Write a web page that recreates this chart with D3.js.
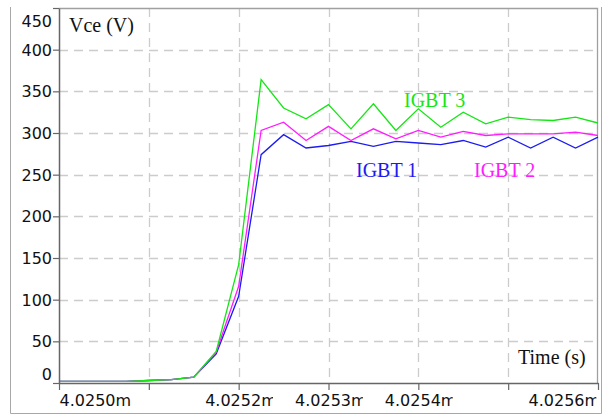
<!DOCTYPE html>
<html><head><meta charset="utf-8">
<script src="https://cdn.jsdelivr.net/npm/d3@7"></script>
<style>
html,body{margin:0;padding:0;background:#fff;}
svg{display:block;}
</style></head>
<body><svg id="chart" width="608" height="414"></svg>
<script>
// time in microseconds
const timeUs = [4025.000,4025.025,4025.050,4025.075,4025.100,4025.125,4025.150,4025.175,4025.200,
  4025.225,4025.250,4025.275,4025.300,4025.325,4025.350,4025.375,4025.400,4025.425,4025.450,
  4025.475,4025.500,4025.525,4025.550,4025.575,4025.600];
const igbt1 = [2,2,2,2,3,4,7,35,104,274,298,282,285,290,284,290,288,286,291,283,295,282,295,282,295];
const igbt2 = [2,2,2,2,3,4,7,37,116,303,313,291,308,291,305,293,303,295,302,297,299,299,299,301,297];
const igbt3 = [2,2,2,2,3,4,7,38,142,364,330,317,334,305,335,303,329,307,325,311,319,316,315,319,312];
const seriesNames = ["IGBT 1","IGBT 2","IGBT 3"];
const seriesColors = ["#1c1cf0","#ff1cff","#14e614"];
const xTicks = [4025.0,4025.1,4025.2,4025.3,4025.4,4025.5,4025.6];
const xTickLabels = ["4.0250m","","4.0252m","4.0253m","4.0254m","","4.0256m"];
const yTicks = [0,50,100,150,200,250,300,350,400,450];

const svg = d3.select("#chart");
const L=59,R=598,T=8,B=383;
const x = d3.scaleLinear().domain([4025.0,4025.6]).range([L,R]);
const y = d3.scaleLinear().domain([0,450]).range([B,T]);

svg.append("rect").attr("width",608).attr("height",414).attr("fill","#fff");

// outer frame
svg.append("path").attr("d",`M10.5,7 V413.5 H601.5 V7`).attr("fill","none").attr("stroke","#a8a8a8").attr("stroke-width",1);

// grid
const grid = svg.append("g").attr("stroke","#cccccc").attr("stroke-width",1.3).attr("stroke-dasharray","9,6");
grid.selectAll("line.v").data(xTicks.slice(1,-1)).join("line")
  .attr("x1",d=>Math.round(x(d))+0.5).attr("x2",d=>Math.round(x(d))+0.5).attr("y1",T).attr("y2",B);
grid.selectAll("line.h").data(yTicks.slice(1,-1)).join("line")
  .attr("x1",L).attr("x2",R).attr("y1",d=>Math.round(y(d))+0.5).attr("y2",d=>Math.round(y(d))+0.5);

// plot top & right border
svg.append("path").attr("d",`M${L},${T+0.5} H${R-0.5} V${B}`).attr("fill","none").attr("stroke","#a0a0a0").attr("stroke-width",1.3);

// series
const line = d3.line().x((d,i)=>x(timeUs[i])).y(d=>y(d));
[igbt1,igbt2,igbt3].forEach((s,i)=>{
  svg.append("path").datum(s).attr("d",line).attr("fill","none")
    .attr("stroke",seriesColors[i]).attr("stroke-width",1.3).attr("stroke-linejoin","miter");
});

// y axis
const yAxis = svg.append("g").attr("transform",`translate(${L},0)`)
  .call(d3.axisLeft(y).tickValues(yTicks).tickSize(6).tickPadding(2).tickSizeOuter(0));
yAxis.select(".domain").attr("stroke","#666").attr("stroke-width",1.5);
yAxis.selectAll(".tick line").attr("stroke","#666").attr("stroke-width",1.2);
yAxis.selectAll(".tick text").attr("font-family","DejaVu Sans").attr("font-size",16).attr("fill","#111")
  .attr("x",-7)
  .attr("dy",d=> d===450 ? "1.15em" : d===0 ? "-0.25em" : "0.35em");

// x axis
const defs = svg.append("defs");
const xAxis = svg.append("g").attr("transform",`translate(0,${B})`)
  .call(d3.axisBottom(x).tickValues(xTicks).tickSize(7).tickSizeOuter(0).tickFormat((d,i)=>xTickLabels[i]));
xAxis.select(".domain").attr("stroke","#666").attr("stroke-width",1.5);
xAxis.selectAll(".tick line").attr("stroke","#666").attr("stroke-width",1.2);
xAxis.selectAll(".tick text").each(function(d,i){
  const t = d3.select(this);
  const last = i===xTicks.length-1;
  const startX = i===0 ? 0 : last ? -70 : -34;
  t.attr("text-anchor","start").attr("x",startX).attr("y",23).attr("dy",0)
   .attr("font-family","DejaVu Sans").attr("font-size",16).attr("fill","#111");
  if(i>0){
    const id = "xclip"+i;
    defs.append("clipPath").attr("id",id).append("rect")
      .attr("x",startX-1).attr("y",0).attr("width",68.8).attr("height",30);
    t.attr("clip-path",`url(#${id})`);
  }
});

// labels
const serif = "Liberation Serif";
svg.append("text").attr("x",69).attr("y",32).attr("font-family",serif).attr("font-size",20).attr("fill","#111").text("Vce (V)");
svg.append("text").attr("x",518).attr("y",364).attr("font-family",serif).attr("font-size",20).attr("fill","#111").text("Time (s)");
const labelPos = [[356,177],[474,177],[404,107]];
seriesNames.forEach((n,i)=>{
  svg.append("text").attr("x",labelPos[i][0]).attr("y",labelPos[i][1]).attr("font-family",serif)
    .attr("font-size",20).attr("fill",seriesColors[i]).text(n);
});
</script>
</body></html>
